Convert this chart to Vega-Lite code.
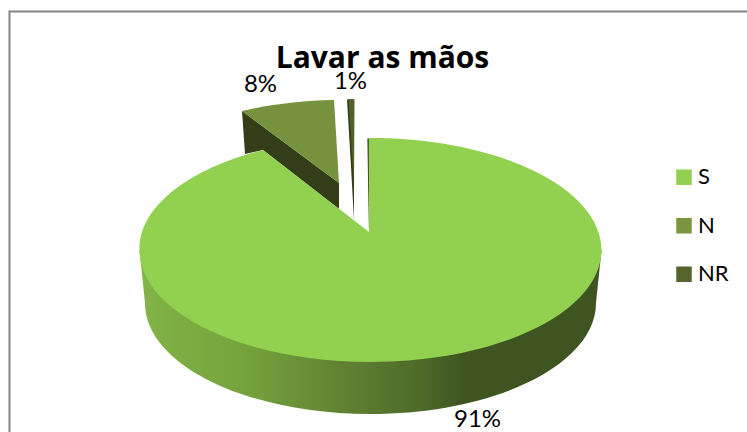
{
  "$schema": "https://vega.github.io/schema/vega-lite/v6.json",
  "autosize": "none",
  "width": 741,
  "height": 430,
  "padding": {"left": 9.5, "top": 11.5, "right": -3.5, "bottom": -9.5},
  "background": "white",
  "view": {"stroke": "#868686", "strokeWidth": 2, "fill": "white"},
  "title": {"text": "Lavar as mãos", "font": "Open Sans", "fontSize": 30, "fontWeight": "bold", "color": "#000000", "anchor": "middle", "frame": "group", "baseline": "alphabetic", "offset": 0, "dx": 2.5, "dy": 86},
  "data": {"values": [
    {"categoria": "S", "parcela": 0.91},
    {"categoria": "N", "parcela": 0.08},
    {"categoria": "NR", "parcela": 0.01}
  ]},
  "layer": [
    {
      "transform": [{"filter": "datum.categoria === 'S'"}],
      "mark": {"type": "point", "filled": true, "opacity": 1, "size": 4, "strokeWidth": 0,
        "shape": "M-240.5 23.5L-235 76.5A225.5 111 0 0 0 -9.5 187.5A225.5 111 0 0 0 216 76.5L221.5 23.5Z",
        "color": {"gradient": "linear", "x1": 0, "y1": 0, "x2": 1, "y2": 0, "stops": [
          {"offset": 0, "color": "#82b446"},
          {"offset": 0.25, "color": "#74a03c"},
          {"offset": 0.45, "color": "#5f8032"},
          {"offset": 0.6, "color": "#4f6b29"},
          {"offset": 0.7, "color": "#3e5521"},
          {"offset": 1, "color": "#3e5521"}
        ]}}
    },
    {
      "mark": {"type": "point", "filled": true, "opacity": 1, "size": 4, "strokeWidth": 0, "color": "#333d17"},
      "encoding": {
        "shape": {"field": "categoria", "type": "nominal", "legend": null, "scale": {"domain": ["S", "N", "NR"], "range": [
          "M-12.6 -88L-11.2 5.5L-10.8 -88Z",
          "M-138 -115.5L-41 -43.5L-41 -17.5L-117 -76.5L-135 -72.5Z",
          "M-33 -127L-26 -127L-26 -6.5L-29 -60Z"
        ]}}
      }
    },
    {
      "mark": {"type": "point", "filled": true, "opacity": 1, "size": 4, "strokeWidth": 0},
      "encoding": {
        "shape": {"field": "categoria", "type": "nominal", "legend": null, "scale": {"domain": ["S", "N", "NR"], "range": [
          "M-11 5.5L-11.3 -88.5A231 112 0 0 1 221.5 23.5A231 112 0 0 1 -9.5 135.5A231 112 0 0 1 -240.5 23.5A231 112 0 0 1 -117 -76.5Z",
          "M-138 -115.5A231 112 0 0 1 -46 -126.5L-41 -43.5Z",
          "M-31.5 -127.5L-25.5 -127.2L-26 -41.5Z"
        ]}},
        "color": {"field": "categoria", "type": "nominal", "legend": null,
          "scale": {"domain": ["S", "N", "NR"], "range": ["#92d050", "#76923c", "#4f6228"]}}
      }
    },
    {
      "mark": {"type": "square", "size": 0, "opacity": 1},
      "encoding": {
        "color": {"field": "categoria", "type": "nominal", "sort": ["S", "N", "NR"],
          "scale": {"domain": ["S", "N", "NR"], "range": ["#92d050", "#7a963d", "#55652c"]},
          "legend": {"title": null, "orient": "none", "legendX": 663.5, "legendY": 153.5, "symbolType": "square", "symbolSize": 240, "symbolStrokeWidth": 0, "symbolOpacity": 1, "labelFont": "Lato", "labelFontSize": 22, "labelColor": "#000000", "labelOffset": 3, "rowPadding": 23.5, "clipHeight": 24.5, "padding": 0}
        }
      }
    },
    {
      "transform": [{"filter": "datum.categoria === 'S'"}],
      "mark": {"type": "text", "font": "Lato", "fontSize": 24, "color": "#000000", "align": "center", "baseline": "middle", "dx": 97.5, "dy": 193.5},
      "encoding": {"text": {"field": "parcela", "type": "quantitative", "format": ".0%"}}
    },
    {
      "transform": [{"filter": "datum.categoria === 'N'"}],
      "mark": {"type": "text", "font": "Lato", "fontSize": 24, "color": "#000000", "align": "center", "baseline": "middle", "dx": -119.5, "dy": -141.5},
      "encoding": {"text": {"field": "parcela", "type": "quantitative", "format": ".0%"}}
    },
    {
      "transform": [{"filter": "datum.categoria === 'NR'"}],
      "mark": {"type": "text", "font": "Lato", "fontSize": 24, "color": "#000000", "align": "center", "baseline": "middle", "dx": -29.5, "dy": -145},
      "encoding": {"text": {"field": "parcela", "type": "quantitative", "format": ".0%"}}
    }
  ],
  "resolve": {"scale": {"shape": "independent", "color": "independent"}}
}
